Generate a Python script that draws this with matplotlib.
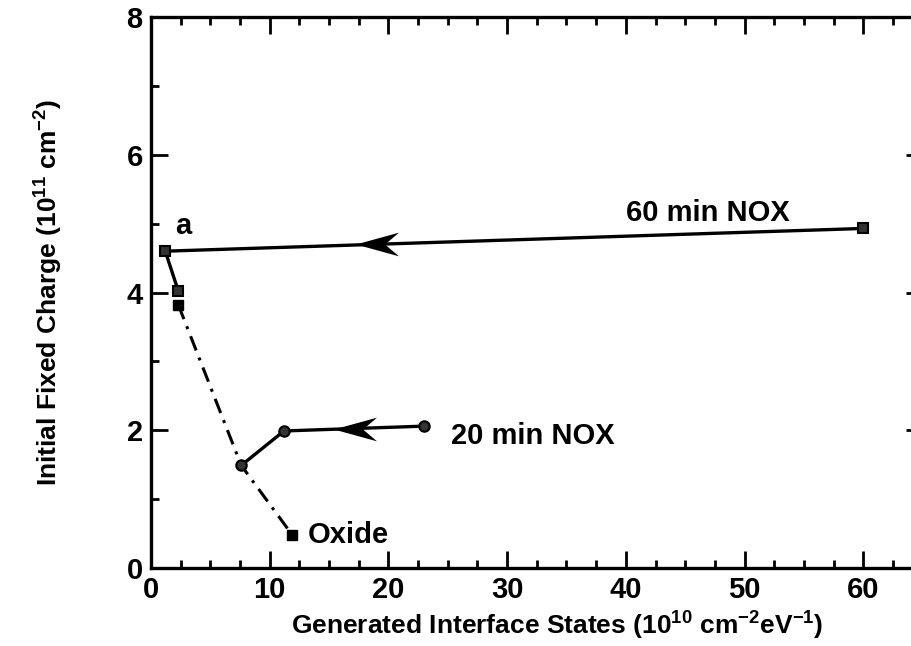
import matplotlib.pyplot as plt
from matplotlib.path import Path
from matplotlib.ticker import MultipleLocator

plt.rcParams['font.family'] = ['Liberation Sans', 'DejaVu Sans']
plt.rcParams['font.weight'] = 'bold'
plt.rcParams['axes.labelweight'] = 'bold'
plt.rcParams['mathtext.fontset'] = 'custom'
plt.rcParams['mathtext.rm'] = 'Liberation Sans:bold'
plt.rcParams['mathtext.bf'] = 'Liberation Sans:bold'
plt.rcParams['mathtext.default'] = 'rm'

# 60 min NOX: start point, corner "a", then down to next point
nox60_x = [60.0, 1.2, 2.3]
nox60_y = [4.93, 4.60, 4.02]

# 20 min NOX
nox20_x = [23.0, 11.2, 7.6]
nox20_y = [2.06, 1.99, 1.49]

# oxide (dash-dot)
oxide_x = [2.3, 7.6, 11.9]
oxide_y = [3.82, 1.49, 0.48]

# arrowhead centres on the two NOX lines
arrow_x = [19.0, 17.2]
arrow_y = [4.71, 2.02]

fig = plt.figure(figsize=(9.12, 6.46), dpi=100)
ax = fig.add_axes([0.1656, 0.1207, 0.8460, 0.853])

lw = 2.4
ax.plot(oxide_x, oxide_y, color='black', lw=2.2, linestyle=(0, (5, 2.5, 1, 2.5)))
ax.plot(oxide_x[0], oxide_y[0], 's', color='black', ms=7)
ax.plot(oxide_x[-1], oxide_y[-1], 's', color='black', ms=7)

ax.plot(nox60_x, nox60_y, color='black', lw=lw, marker='s', ms=7.5,
        mfc='#333333', mec='black', mew=1.5)
ax.plot(nox20_x, nox20_y, color='black', lw=lw, marker='o', ms=7.5,
        mfc='#333333', mec='black', mew=1.5)

# barbed arrowhead pointing left
head = Path([(-1.0, 0.0), (1.0, 0.55), (0.35, 0.0), (1.0, -0.55), (-1.0, 0.0)],
            [Path.MOVETO, Path.LINETO, Path.LINETO, Path.LINETO, Path.CLOSEPOLY])
ax.plot(arrow_x, arrow_y, linestyle='none', marker=head, ms=31,
        color='black', mew=0)

ax.text(46.9, 5.15, '60 min NOX', fontsize=21, ha='center', va='center')
ax.text(25.3, 1.92, '20 min NOX', fontsize=21, ha='left', va='center')
ax.text(13.2, 0.48, 'Oxide', fontsize=21, ha='left', va='center')
ax.text(2.0, 4.97, 'a', fontsize=21, ha='left', va='center')

ax.set_xlim(0, 65)
ax.set_ylim(0, 8)
ax.xaxis.set_major_locator(MultipleLocator(10))
ax.xaxis.set_minor_locator(MultipleLocator(2.5))
ax.yaxis.set_major_locator(MultipleLocator(2))
ax.yaxis.set_minor_locator(MultipleLocator(1))
ax.set_xticks([0, 10, 20, 30, 40, 50, 60])
ax.tick_params(which='both', direction='in', top=True, right=True,
               width=2.0, labelsize=21, pad=6)
ax.tick_params(which='major', length=12)
ax.tick_params(which='minor', length=6)
for sp in ax.spines.values():
    sp.set_linewidth(2.4)

ax.set_xlabel('Generated Interface States (10$^{10}$ cm$^{-2}$eV$^{-1}$)',
              fontsize=19, labelpad=4)
ax.xaxis.label.set_x(0.526)
ax.set_ylabel('Initial Fixed Charge (10$^{11}$ cm$^{-2}$)', fontsize=19, labelpad=44)

fig.savefig('out.png', dpi=100)
plt.close(fig)
